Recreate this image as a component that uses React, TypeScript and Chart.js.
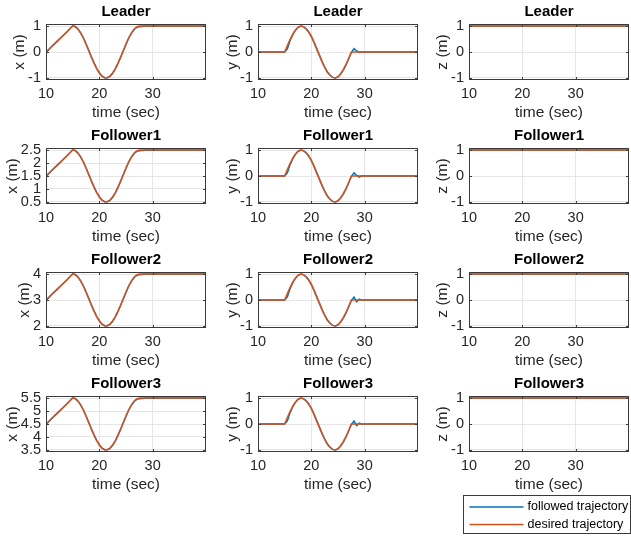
import React, { useEffect, useRef } from 'react';
import { Chart, registerables } from 'chart.js';

Chart.register(...registerables);
Chart.defaults.font.family = '"Liberation Sans", Arial, Helvetica, sans-serif';

// ---------------- data ----------------
const TIME = [10, 11, 12, 13, 14, 15,
  15.5, 16, 16.5, 17, 17.5, 18, 18.5, 19, 19.5, 20, 20.5, 21, 21.5, 22, 22.5, 23, 23.5, 24, 24.5, 25, 25.5, 26, 26.5, 27, 27.5,
  28, 28.5, 29, 29.5, 30, 35, 40];

const LEADER_X_DES = [0, 0.2, 0.4, 0.6, 0.8, 1,
  0.97, 0.88, 0.73, 0.54, 0.31, 0.06, -0.19, -0.43, -0.64, -0.81, -0.93, -0.99, -0.99, -0.93, -0.81, -0.64, -0.43, -0.19, 0.06, 0.31, 0.54, 0.73, 0.88, 0.97, 1,
  1, 1, 1, 1, 1, 1, 1];
const LEADER_X_FOL = [-0.03, 0.19, 0.39, 0.59, 0.79, 1.01,
  0.99, 0.89, 0.74, 0.55, 0.32, 0.07, -0.18, -0.42, -0.63, -0.8, -0.93, -0.99, -0.99, -0.94, -0.82, -0.65, -0.44, -0.2, 0.05, 0.3, 0.53, 0.72, 0.86, 0.95, 0.97,
  0.98, 0.99, 1, 1, 1, 1, 1];

const FOLLOWER1_X_DES = [1.5, 1.7, 1.9, 2.1, 2.3, 2.5,
  2.47, 2.38, 2.23, 2.04, 1.81, 1.56, 1.31, 1.07, 0.86, 0.69, 0.57, 0.51, 0.51, 0.57, 0.69, 0.86, 1.07, 1.31, 1.56, 1.81, 2.04, 2.23, 2.38, 2.47, 2.5,
  2.5, 2.5, 2.5, 2.5, 2.5, 2.5, 2.5];
const FOLLOWER1_X_FOL = [1.47, 1.69, 1.89, 2.09, 2.29, 2.51,
  2.49, 2.39, 2.24, 2.05, 1.82, 1.57, 1.32, 1.08, 0.87, 0.7, 0.57, 0.51, 0.51, 0.56, 0.68, 0.85, 1.06, 1.3, 1.55, 1.8, 2.03, 2.22, 2.36, 2.45, 2.47,
  2.48, 2.49, 2.5, 2.5, 2.5, 2.5, 2.5];

const FOLLOWER2_X_DES = [3, 3.2, 3.4, 3.6, 3.8, 4,
  3.97, 3.88, 3.73, 3.54, 3.31, 3.06, 2.81, 2.57, 2.36, 2.19, 2.07, 2.01, 2.01, 2.07, 2.19, 2.36, 2.57, 2.81, 3.06, 3.31, 3.54, 3.73, 3.88, 3.97, 4,
  4, 4, 4, 4, 4, 4, 4];
const FOLLOWER2_X_FOL = [2.97, 3.19, 3.39, 3.59, 3.79, 4.01,
  3.99, 3.89, 3.74, 3.55, 3.32, 3.07, 2.82, 2.58, 2.37, 2.2, 2.07, 2.01, 2.01, 2.06, 2.18, 2.35, 2.56, 2.8, 3.05, 3.3, 3.53, 3.72, 3.86, 3.95, 3.97,
  3.98, 3.99, 4, 4, 4, 4, 4];

const FOLLOWER3_X_DES = [4.5, 4.7, 4.9, 5.1, 5.3, 5.5,
  5.47, 5.38, 5.23, 5.04, 4.81, 4.56, 4.31, 4.07, 3.86, 3.69, 3.57, 3.51, 3.51, 3.57, 3.69, 3.86, 4.07, 4.31, 4.56, 4.81, 5.04, 5.23, 5.38, 5.47, 5.5,
  5.5, 5.5, 5.5, 5.5, 5.5, 5.5, 5.5];
const FOLLOWER3_X_FOL = [4.47, 4.69, 4.89, 5.09, 5.29, 5.51,
  5.49, 5.39, 5.24, 5.05, 4.82, 4.57, 4.32, 4.08, 3.87, 3.7, 3.57, 3.51, 3.51, 3.56, 3.68, 3.85, 4.06, 4.3, 4.55, 4.8, 5.03, 5.22, 5.36, 5.45, 5.47,
  5.48, 5.49, 5.5, 5.5, 5.5, 5.5, 5.5];

const Y_DES = [0, 0, 0, 0, 0, 0,
  0.25, 0.48, 0.68, 0.84, 0.95, 1.0, 0.98, 0.9, 0.77, 0.59, 0.37, 0.12, -0.12, -0.37, -0.59, -0.77, -0.9, -0.98, -1.0, -0.95, -0.84, -0.68, -0.48, -0.25, 0,
  0, 0, 0, 0, 0, 0, 0];
const LEADER_Y_FOL = [0, 0, 0, 0, 0, 0,
  0.12, 0.43, 0.66, 0.83, 0.95, 1.0, 0.98, 0.9, 0.78, 0.6, 0.38, 0.13, -0.11, -0.36, -0.58, -0.77, -0.9, -0.98, -1.0, -0.96, -0.85, -0.7, -0.5, -0.27, -0.02,
  0.13, 0.04, -0.02, 0.01, 0, 0, 0];
const FOLLOWER1_Y_FOL = [0, 0, 0, 0, 0, 0,
  0.12, 0.43, 0.66, 0.83, 0.95, 1.0, 0.98, 0.9, 0.78, 0.6, 0.38, 0.13, -0.11, -0.36, -0.58, -0.77, -0.9, -0.98, -1.0, -0.96, -0.85, -0.7, -0.5, -0.27, -0.02,
  0.12, 0.02, -0.04, 0.01, 0, 0, 0];
const FOLLOWER2_Y_FOL = [0, 0, 0, 0, 0, 0,
  0.12, 0.43, 0.66, 0.83, 0.95, 1.0, 0.98, 0.9, 0.78, 0.6, 0.38, 0.13, -0.11, -0.36, -0.58, -0.77, -0.9, -0.98, -1.0, -0.96, -0.85, -0.7, -0.5, -0.27, -0.02,
  0.11, -0.07, 0.03, -0.01, 0, 0, 0];
const FOLLOWER3_Y_FOL = [0, 0, 0, 0, 0, 0,
  0.12, 0.43, 0.66, 0.83, 0.95, 1.0, 0.98, 0.9, 0.78, 0.6, 0.38, 0.13, -0.11, -0.36, -0.58, -0.77, -0.9, -0.98, -1.0, -0.96, -0.85, -0.7, -0.5, -0.27, -0.02,
  0.11, -0.06, 0.03, -0.01, 0, 0, 0];

const TIME_Z = [10, 40];
const Z_DES = [1, 1];
const Z_FOL = [1, 1];

const ROW_TITLES = ['Leader', 'Follower1', 'Follower2', 'Follower3'];
const X_TICKS = [10, 20, 30];
const TICKS_UNIT = [-1, 0, 1];
const TICKS_F1 = [0.5, 1, 1.5, 2, 2.5];
const TICKS_F2 = [2, 3, 4];
const TICKS_F3 = [3.5, 4, 4.5, 5, 5.5];
const SERIES_LABELS = ['followed trajectory', 'desired trajectory'];

// ---------------- style / layout ----------------
const BLUE = '#0072BD';
const ORANGE = '#D95319';
const TXT = '#262626';
const GRID = '#e6e6e6';
const COL_LEFT = [46, 258, 469];
const ROW_TOP = [24, 148, 272, 396];
const PLOT_W = 160;
const PLOT_H = 56;
const Y_AXIS_W = 46;
const TITLE_H = 24;
const X_AXIS_H = 45;
const RIGHT_PAD = 6;

type Spec = {
  title: string; ylabel: string; t: number[]; fol: number[]; des: number[];
  ymin: number; ymax: number; yticks: number[]; col: number; row: number; ylabPad: number;
  legend?: boolean;
};

const fmt = (v: any) => String(Math.round(Number(v) * 100) / 100);

const framePlugin = {
  id: 'matlabFrame',
  afterDatasetsDraw(chart: any) {
    const { ctx, chartArea: a, scales } = chart;
    ctx.save();
    ctx.strokeStyle = '#3a3a3a';
    ctx.lineWidth = 1;
    const L = Math.round(a.left) + 0.5, R = Math.round(a.right) - 0.5;
    const T = Math.round(a.top) + 0.5, B = Math.round(a.bottom) - 0.5;
    ctx.beginPath();
    for (const tk of scales.x.ticks) {
      const px = Math.round(scales.x.getPixelForValue(tk.value)) + 0.5;
      ctx.moveTo(px, B); ctx.lineTo(px, B - 2.5);
      ctx.moveTo(px, T); ctx.lineTo(px, T + 2.5);
    }
    for (const tk of scales.y.ticks) {
      const py = Math.round(scales.y.getPixelForValue(tk.value)) + 0.5;
      ctx.moveTo(L, py); ctx.lineTo(L + 2.5, py);
      ctx.moveTo(R, py); ctx.lineTo(R - 2.5, py);
    }
    ctx.stroke();
    ctx.strokeRect(L, T, R - L, B - T);
    ctx.restore();
  },
};

// legend drawn in page coordinates translated into the last canvas
const LEGEND_BOX = { left: 463, top: 495, right: 630, bottom: 533 };

function makeLegendPlugin(canvasLeft: number, canvasTop: number) {
  return {
    id: 'boxLegend',
    afterDraw(chart: any) {
      const { ctx } = chart;
      const x0 = LEGEND_BOX.left - canvasLeft + 0.5;
      const y0 = LEGEND_BOX.top - canvasTop + 0.5;
      const w = LEGEND_BOX.right - LEGEND_BOX.left;
      const h = LEGEND_BOX.bottom - LEGEND_BOX.top;
      ctx.save();
      ctx.fillStyle = '#ffffff';
      ctx.fillRect(x0, y0, w, h);
      ctx.strokeStyle = '#3a3a3a';
      ctx.lineWidth = 1;
      ctx.strokeRect(x0, y0, w, h);
      ctx.font = '12.5px "Liberation Sans", Arial, Helvetica, sans-serif';
      ctx.textBaseline = 'middle';
      ctx.textAlign = 'left';
      chart.data.datasets.forEach((ds: any, i: number) => {
        const cy = y0 + 11.5 + i * 17.5;
        ctx.strokeStyle = ds.borderColor;
        ctx.lineWidth = 1.5;
        ctx.beginPath();
        ctx.moveTo(x0 + 6, cy);
        ctx.lineTo(x0 + 60, cy);
        ctx.stroke();
        ctx.fillStyle = '#000';
        ctx.fillText(ds.label, x0 + 64, cy);
      });
      ctx.restore();
    },
  };
}

function Panel({ spec }: { spec: Spec }) {
  const ref = useRef<HTMLCanvasElement>(null);
  const left = COL_LEFT[spec.col] - Y_AXIS_W;
  const top = ROW_TOP[spec.row] - TITLE_H;
  const extraBottom = spec.legend ? 538 - (top + TITLE_H + PLOT_H + X_AXIS_H) : 0;
  const width = Y_AXIS_W + PLOT_W + RIGHT_PAD;
  const height = TITLE_H + PLOT_H + X_AXIS_H + extraBottom;

  useEffect(() => {
    const canvas = ref.current;
    if (!canvas) return;
    const plugins: any[] = [framePlugin];
    if (spec.legend) plugins.push(makeLegendPlugin(left, top));
    const chart = new Chart(canvas, {
      type: 'line',
      data: {
        datasets: [
          {
            label: SERIES_LABELS[0],
            data: spec.t.map((x, i) => ({ x, y: spec.fol[i] })),
            borderColor: BLUE, backgroundColor: BLUE, borderWidth: 1.5,
            pointRadius: 0, tension: 0, order: 1,
          },
          {
            label: SERIES_LABELS[1],
            data: spec.t.map((x, i) => ({ x, y: spec.des[i] })),
            borderColor: ORANGE, backgroundColor: ORANGE, borderWidth: 1.5,
            pointRadius: 0, tension: 0, order: 0,
          },
        ],
      },
      options: {
        responsive: false,
        animation: false,
        devicePixelRatio: 1,
        events: [],
        layout: { padding: { left: 0, top: 0, right: RIGHT_PAD, bottom: extraBottom } },
        plugins: {
          legend: { display: false },
          tooltip: { enabled: false },
          title: {
            display: true, text: spec.title, fullSize: false, color: '#000',
            font: { size: 15, weight: 'bold' }, padding: { top: 3, bottom: 3 },
          },
        },
        scales: {
          x: {
            type: 'linear', min: 10, max: 40,
            afterBuildTicks: (s: any) => { s.ticks = X_TICKS.map((v) => ({ value: v })); },
            afterFit: (s: any) => { s.height = X_AXIS_H; },
            grid: { color: GRID, drawTicks: false },
            border: { display: false },
            ticks: { font: { size: 14.5 }, color: TXT, padding: 5.5, maxRotation: 0, autoSkip: false, callback: fmt },
            title: { display: true, text: 'time (sec)', color: TXT, font: { size: 15.5 }, padding: { top: 0, bottom: 2.7 } },
          },
          y: {
            type: 'linear', min: spec.ymin, max: spec.ymax,
            afterBuildTicks: (s: any) => { s.ticks = spec.yticks.map((v) => ({ value: v })); },
            afterFit: (s: any) => { s.width = Y_AXIS_W; },
            grid: { color: GRID, drawTicks: false },
            border: { display: false },
            ticks: { font: { size: 14.5 }, color: TXT, padding: 5, autoSkip: false, callback: fmt },
            title: { display: true, text: spec.ylabel, color: TXT, font: { size: 15.5 }, padding: { top: spec.ylabPad, bottom: 0 } },
          },
        },
      },
      plugins,
    } as any);
    return () => chart.destroy();
  }, []);

  return (
    <canvas
      ref={ref}
      width={width}
      height={height}
      style={{ position: 'absolute', left, top, width, height }}
    />
  );
}

const X_SERIES = [
  { fol: LEADER_X_FOL, des: LEADER_X_DES, ymin: -1.08, ymax: 1.08, yticks: TICKS_UNIT, pad: 10 },
  { fol: FOLLOWER1_X_FOL, des: FOLLOWER1_X_DES, ymin: 0.42, ymax: 2.58, yticks: TICKS_F1, pad: 3 },
  { fol: FOLLOWER2_X_FOL, des: FOLLOWER2_X_DES, ymin: 1.92, ymax: 4.08, yticks: TICKS_F2, pad: 15 },
  { fol: FOLLOWER3_X_FOL, des: FOLLOWER3_X_DES, ymin: 3.42, ymax: 5.58, yticks: TICKS_F3, pad: 3 },
];
const Y_FOL_ROWS = [LEADER_Y_FOL, FOLLOWER1_Y_FOL, FOLLOWER2_Y_FOL, FOLLOWER3_Y_FOL];

export default function App() {
  const specs: Spec[] = [];
  ROW_TITLES.forEach((title, row) => {
    const xs = X_SERIES[row];
    specs.push({ title, ylabel: 'x (m)', t: TIME, fol: xs.fol, des: xs.des, ymin: xs.ymin, ymax: xs.ymax, yticks: xs.yticks, col: 0, row, ylabPad: xs.pad });
    specs.push({ title, ylabel: 'y (m)', t: TIME, fol: Y_FOL_ROWS[row], des: Y_DES, ymin: -1.08, ymax: 1.08, yticks: TICKS_UNIT, col: 1, row, ylabPad: 11 });
    specs.push({ title, ylabel: 'z (m)', t: TIME_Z, fol: Z_FOL, des: Z_DES, ymin: -1.08, ymax: 1.08, yticks: TICKS_UNIT, col: 2, row, ylabPad: 10, legend: row === 3 });
  });
  return (
    <div style={{ position: 'absolute', left: 0, top: 0, width: 631, height: 538, overflow: 'hidden', background: '#fff' }}>
      {specs.map((s, i) => <Panel key={i} spec={s} />)}
    </div>
  );
}
